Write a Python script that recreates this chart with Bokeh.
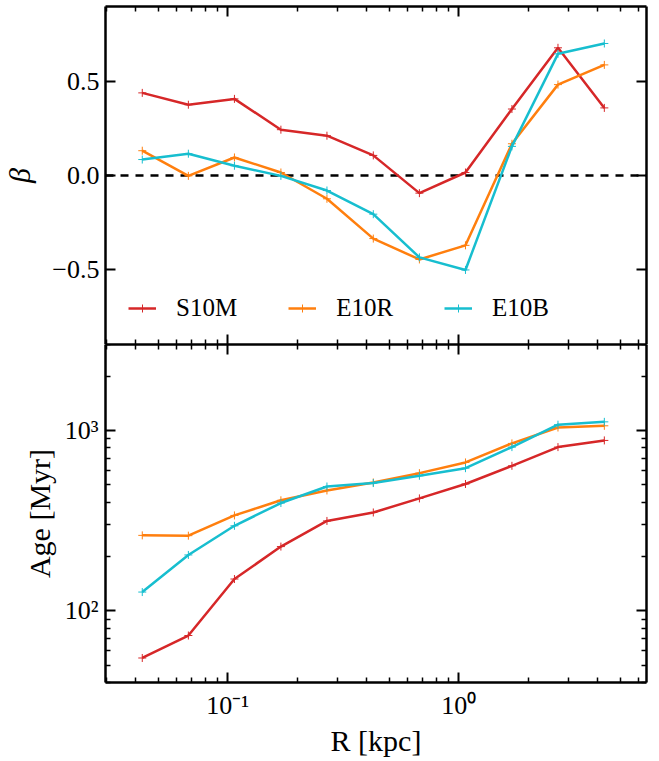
from bokeh.plotting import figure
from bokeh.models import (Range1d, FixedTicker, LinearAxis, LogAxis, Span,
                          Legend, LegendItem, CustomJSTickFormatter)
from bokeh.layouts import column
from bokeh.embed import file_html
from bokeh.resources import INLINE

# ---- data ----
R_kpc = [0.0427, 0.0676, 0.107, 0.170, 0.269, 0.427, 0.676, 1.07, 1.70, 2.69, 4.27]

beta_S10M = [0.44, 0.377, 0.408, 0.244, 0.212, 0.107, -0.094, 0.016, 0.354, 0.68, 0.36]
beta_E10R = [0.132, -0.002, 0.096, 0.016, -0.124, -0.336, -0.447, -0.372, 0.169, 0.484, 0.589]
beta_E10B = [0.085, 0.116, 0.052, -0.002, -0.08, -0.206, -0.436, -0.503, 0.155, 0.648, 0.703]

age_S10M = [54.7, 72.9, 150, 227, 315, 351, 420, 505, 637, 809, 881]
age_E10R = [262, 261, 338, 410, 465, 515, 580, 665, 848, 1039, 1062]
age_E10B = [127, 204, 296, 396, 489, 511, 561, 618, 809, 1077, 1117]

series_names = ["S10M", "E10R", "E10B"]
series_colors = ["#d62728", "#ff7f0e", "#17becf"]

x_major = [0.1, 1.0]
x_major_labels = {0.1: "10\u207b\u00b9", 1.0: "10\u2070"}
beta_ticks = [-0.5, 0.0, 0.5]
beta_labels = {-0.5: "\u22120.5", 0.0: "0.0", 0.5: "0.5"}
age_major = [100, 1000]
age_major_labels = {100: "10\u00b2", 1000: "10\u00b3"}

FONT = "'Liberation Serif', serif"
x_minor = [m * 10.0 ** e for e in (-2, -1, 0) for m in range(2, 10)]
age_minor = [m * 10.0 ** e for e in (1, 2, 3) for m in range(2, 10)]

FW, FH = 541, 338
xr = Range1d(0.0296, 6.5)


def style_axis(ax, show_labels, minor=True):
    ax.axis_line_width = 2.5
    ax.major_tick_line_width = 2
    ax.minor_tick_line_width = 1.5
    ax.major_tick_in = 10
    ax.major_tick_out = 0
    ax.minor_tick_in = 5 if minor else 0
    ax.minor_tick_out = 0
    ax.major_label_text_font = FONT
    ax.major_label_text_font_size = "26px"
    ax.major_label_text_font_style = "normal"
    ax.major_label_text_color = "black"
    ax.axis_label_text_color = "black"
    ax.axis_line_color = "black"
    ax.major_tick_line_color = "black"
    ax.minor_tick_line_color = "black" if minor else None
    if not show_labels:
        ax.formatter = CustomJSTickFormatter(code="return ''")
        ax.major_label_text_font_size = "1px"
        ax.major_label_standoff = 0
        ax.axis_label = None


# ---- top panel ----
p1 = figure(frame_width=FW, frame_height=FH, x_axis_type="log", x_range=xr,
            y_range=Range1d(-0.9, 0.9), output_backend="svg", toolbar_location=None,
            min_border_left=102, min_border_right=6, min_border_top=6, min_border_bottom=0)
p1.grid.visible = False
p1.outline_line_color = None

xt = FixedTicker(ticks=x_major, minor_ticks=x_minor)
yt1 = FixedTicker(ticks=beta_ticks, minor_ticks=[])

p1.xaxis.ticker = xt
p1.yaxis.ticker = yt1
style_axis(p1.xaxis[0], False)
style_axis(p1.yaxis[0], True, minor=False)
p1.yaxis.major_label_overrides = beta_labels
p1.yaxis.axis_label = "\u03b2"
p1.yaxis.axis_label_text_font = FONT
p1.yaxis.axis_label_text_font_size = "30px"
p1.yaxis.axis_label_text_font_style = "italic"
p1.yaxis.axis_label_standoff = 13
p1.yaxis.major_label_standoff = 6

ax = LogAxis(ticker=xt)
style_axis(ax, False)
p1.add_layout(ax, "above")
ay = LinearAxis(ticker=yt1)
style_axis(ay, False, minor=False)
p1.add_layout(ay, "right")

p1.add_layout(Span(location=0, dimension="width", line_color="black",
                   line_width=2.5, line_dash="8 7", level="underlay"))

items = []
for name, col, vals in zip(series_names, series_colors, [beta_S10M, beta_E10R, beta_E10B]):
    lr = p1.line(R_kpc, vals, line_color=col, line_width=2.5)
    sr = p1.scatter(R_kpc, vals, marker="cross", size=8, line_color=col, line_width=1)
    items.append(LegendItem(label=name, renderers=[lr, sr]))

leg = Legend(items=items, orientation="horizontal", location=(23, 22),
             border_line_color=None, background_fill_alpha=0,
             label_text_font=FONT, label_text_font_size="25px",
             label_text_font_style="normal", label_text_color="black",
             glyph_width=28, glyph_height=20, label_standoff=20, spacing=51,
             padding=0, margin=0)
p1.add_layout(leg)

# ---- bottom panel ----
p2 = figure(frame_width=FW, frame_height=FH, x_axis_type="log", y_axis_type="log",
            x_range=xr, y_range=Range1d(40, 3000), output_backend="svg",
            toolbar_location=None, min_border_left=102, min_border_right=6,
            min_border_top=0, min_border_bottom=0)
p2.grid.visible = False
p2.outline_line_color = None

yt2 = FixedTicker(ticks=age_major, minor_ticks=age_minor)
p2.xaxis.ticker = xt
p2.yaxis.ticker = yt2
style_axis(p2.xaxis[0], True)
style_axis(p2.yaxis[0], True)
p2.xaxis.major_label_overrides = x_major_labels
p2.yaxis.major_label_overrides = age_major_labels
p2.xaxis.major_label_standoff = 8
p2.yaxis.major_label_standoff = 7
p2.xaxis.axis_label = "R [kpc]"
p2.yaxis.axis_label = "Age [Myr]"
for a in (p2.xaxis[0], p2.yaxis[0]):
    a.axis_label_text_font = FONT
    a.axis_label_text_font_size = "30px"
    a.axis_label_text_font_style = "normal"
    a.axis_label_text_color = "black"
p2.xaxis.axis_label_standoff = 1
p2.yaxis.axis_label_standoff = 6

ax2 = LogAxis(ticker=xt)
style_axis(ax2, False)
p2.add_layout(ax2, "above")
ay2 = LogAxis(ticker=yt2)
style_axis(ay2, False)
p2.add_layout(ay2, "right")

for name, col, vals in zip(series_names, series_colors, [age_S10M, age_E10R, age_E10B]):
    p2.line(R_kpc, vals, line_color=col, line_width=2.5)
    p2.scatter(R_kpc, vals, marker="cross", size=8, line_color=col, line_width=1)

layout = column(p1, p2, spacing=0)
open("out.html", "w").write(file_html(layout, INLINE))
